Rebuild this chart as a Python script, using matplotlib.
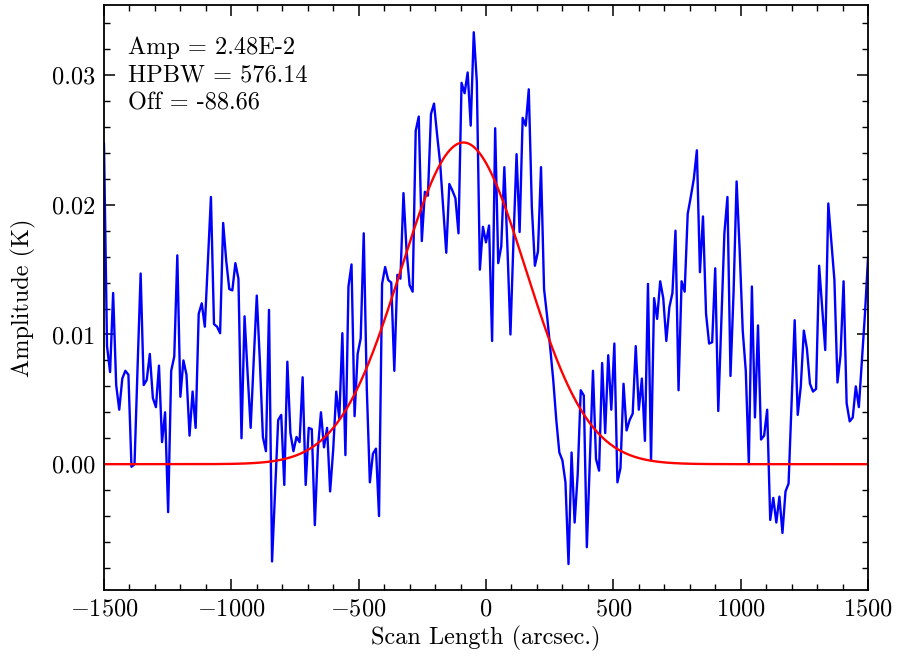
import matplotlib
matplotlib.use("Agg")
import matplotlib.pyplot as plt
import numpy as np
from matplotlib.ticker import MultipleLocator, FormatStrFormatter

plt.rcParams['font.family'] = 'serif'
plt.rcParams['font.serif'] = ['cmr10']
plt.rcParams['mathtext.fontset'] = 'cm'
plt.rcParams['axes.formatter.use_mathtext'] = True
plt.rcParams['axes.unicode_minus'] = True

# scan grid (arcsec), 12" steps
scan_start = -1500
scan_stop = 1500
scan_step = 12

# measured amplitude (K) at each scan position
amplitude = [
    0.0247, 0.0091, 0.0071, 0.0132, 0.0061, 0.0042, 0.0066, 0.0072, 0.0069, -0.0002,
    0.0000, 0.0075, 0.0147, 0.0061, 0.0065, 0.0085, 0.0051, 0.0044, 0.0076, 0.0017,
    0.0040, -0.0037, 0.0072, 0.0083, 0.0161, 0.0052, 0.0080, 0.0069, 0.0022, 0.0056,
    0.0028, 0.0116,
    0.0124, 0.0106, 0.0156, 0.0206, 0.0108, 0.0106, 0.0101, 0.0186, 0.0157, 0.0135,
    0.0134, 0.0155, 0.0143, 0.0020, 0.0114, 0.0070, 0.0028, 0.0080, 0.0130, 0.0080,
    0.0021, 0.0010, 0.0119, -0.0075, -0.0020, 0.0034, 0.0038, -0.0016, 0.0079, 0.0024,
    0.0010,
    0.0021, 0.0017, 0.0067, -0.0016, 0.0028, 0.0027, -0.0047, 0.0012, 0.0040, 0.0013,
    0.0028, -0.0021, 0.0011, 0.0056, 0.0035, 0.0101, 0.0007, 0.0137, 0.0154, 0.0037,
    0.0085, 0.0097, 0.0178, 0.0058, -0.0014, 0.0008, 0.0012, -0.0040, 0.0139, 0.0152,
    0.0142,
    0.0140, 0.0072, 0.0146, 0.0143, 0.0209, 0.0165, 0.0138, 0.0133, 0.0257, 0.0268,
    0.0172, 0.0210, 0.0207, 0.0270, 0.0278, 0.0254, 0.0232, 0.0198, 0.0163, 0.0216,
    0.0211, 0.0205, 0.0178, 0.0294, 0.0286, 0.0302, 0.0261, 0.0333, 0.0295, 0.0150,
    0.0183,
    0.0171, 0.0184, 0.0095, 0.0259, 0.0155, 0.0168, 0.0229, 0.0168, 0.0100, 0.0173,
    0.0239, 0.0179, 0.0267, 0.0261, 0.0289, 0.0198, 0.0153, 0.0164, 0.0229, 0.0135,
    0.0114, 0.0090, 0.0065, 0.0034, 0.0009, 0.0003, -0.0014, -0.0077, 0.0009, -0.0045,
    -0.0008,
    0.0057, 0.0053, -0.0064, 0.0005, 0.0072, 0.0004, -0.0005, 0.0078, 0.0024, 0.0084,
    0.0042, 0.0093, -0.0014, -0.0003, 0.0062, 0.0026, 0.0034, 0.0039, 0.0091, 0.0042,
    0.0066, 0.0018, 0.0139, 0.0003, 0.0128, 0.0112, 0.0141, 0.0128, 0.0095, 0.0121,
    0.0132,
    0.0180, 0.0057, 0.0141, 0.0133, 0.0193, 0.0206, 0.0220, 0.0242, 0.0148, 0.0191,
    0.0116, 0.0093, 0.0094, 0.0151, 0.0041, 0.0109, 0.0178, 0.0206, 0.0068, 0.0132,
    0.0218, 0.0165, 0.0103, 0.0072, 0.0000, 0.0137, 0.0036, 0.0107, 0.0019, 0.0022,
    0.0042,
    -0.0043, -0.0026, -0.0045, -0.0025, -0.0053, -0.0021, -0.0015, 0.0049, 0.0111, 0.0038,
    0.0060, 0.0103, 0.0089, 0.0062, 0.0056, 0.0058, 0.0153, 0.0121, 0.0088, 0.0201,
    0.0171, 0.0142, 0.0063, 0.0084, 0.0141, 0.0047, 0.0033, 0.0036, 0.0060, 0.0044,
    0.0080, 0.0116, 0.0159,
]

# gaussian fit parameters
fit_amp = 2.48e-2
fit_hpbw = 576.14
fit_off = -88.66

offsets = np.arange(scan_start, scan_stop + scan_step, scan_step)
xfit = np.linspace(scan_start, scan_stop, 1000)
yfit = fit_amp * np.exp(-4 * np.log(2) * (xfit - fit_off) ** 2 / fit_hpbw ** 2)

fs = 17.5

fig = plt.figure(figsize=(8.97, 6.59), dpi=100)
ax = fig.add_axes([0.1159, 0.1047, 0.8518, 0.8877])

ax.plot(offsets, amplitude, c="b", lw=1.7)
ax.plot(xfit, yfit, c="r", lw=1.7)

ax.set_xlim(-1500, 1500)
ax.set_ylim(-0.0097, 0.0354)
ax.xaxis.set_major_locator(MultipleLocator(500))
ax.xaxis.set_minor_locator(MultipleLocator(100))
ax.yaxis.set_major_locator(MultipleLocator(0.01))
ax.yaxis.set_minor_locator(MultipleLocator(0.002))
ax.yaxis.set_major_formatter(FormatStrFormatter('%.2f'))

ax.tick_params(which="both", direction="in", top=True, right=True, labelsize=fs, pad=6)
ax.tick_params(which="major", length=8, width=1.1)
ax.tick_params(which="minor", length=4, width=1.0)
for s in ax.spines.values():
    s.set_linewidth(1.3)

ax.set_xlabel("Scan Length (arcsec.)", fontsize=fs, labelpad=4)
ax.set_ylabel("Amplitude (K)", fontsize=fs, labelpad=12)

ax.text(0.031, 0.947, "Amp = 2.48E-2\nHPBW = 576.14\nOff = -88.66",
        transform=ax.transAxes, fontsize=fs, va="top", ha="left", linespacing=1.33)

fig.savefig("out.png", dpi=100)
